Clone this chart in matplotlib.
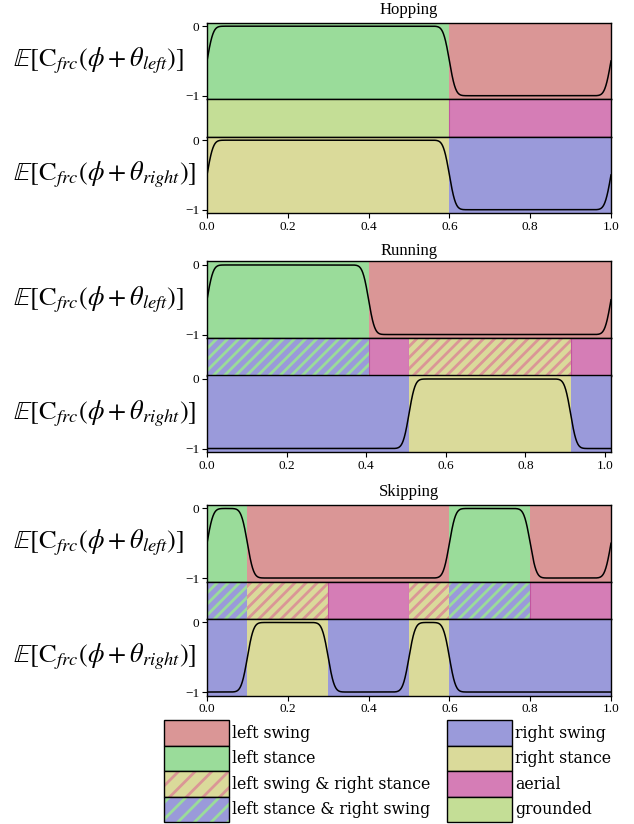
import math
import numpy as np
import matplotlib
matplotlib.use('Agg')
import matplotlib.pyplot as plt
from matplotlib.patches import Patch
from matplotlib.font_manager import FontProperties

plt.rcParams['hatch.linewidth'] = 2.0
plt.rcParams['mathtext.fontset'] = 'stix'
plt.rcParams['font.family'] = ['Liberation Serif', 'DejaVu Serif']
plt.rcParams['axes.linewidth'] = 1.0

# ---------------- data ----------------
gait_names = ['Hopping', 'Running', 'Skipping']
gait_periods = [1.0, 1.015, 1.0]
left_stance = [[(0.0, 0.6)],
               [(0.0, 0.406)],
               [(0.0, 0.1), (0.6, 0.8)]]
right_stance = [[(0.0, 0.6)],
                [(0.5075, 0.9135)],
                [(0.1, 0.3), (0.5, 0.6)]]
x_ticks = [0.0, 0.2, 0.4, 0.6, 0.8, 1.0]
y_ticks = [-1, 0]
transition_sigma = 0.012

legend_labels = ['left swing', 'left stance', 'left swing & right stance',
                 'left stance & right swing', 'right swing', 'right stance',
                 'aerial', 'grounded']

# ---------------- style ----------------
C_LSW = '#da9696'   # left swing
C_LST = '#9adc9a'   # left stance
C_RSW = '#9a9ada'   # right swing
C_RST = '#dada9a'   # right stance
C_AER = '#d57db6'   # aerial
C_GRD = '#c4de96'   # grounded
HATCH = '///'

W, H = 634, 824
fig = plt.figure(figsize=(W / 100, H / 100), dpi=100)


def fig_rect(x0, y0, w, h):
    return [x0 / W, 1 - (y0 + h) / H, w / W, h / H]


_erf = np.frompyfunc(math.erf, 1, 1)


def ncdf(z):
    return 0.5 * (1 + _erf(z / math.sqrt(2)).astype(float))


def expected_cfrc(x, intervals, period):
    p = np.zeros_like(x)
    for a, b in intervals:
        for k in (-1, 0, 1):
            p += ncdf((x - a - k * period) / transition_sigma) - \
                 ncdf((x - b - k * period) / transition_sigma)
    return p - 1.0


def in_stance(x, intervals):
    return any(a <= x < b for a, b in intervals)


def complement(intervals, period):
    pts = [0.0]
    out = []
    for a, b in sorted(intervals):
        if a > pts[-1]:
            out.append((pts[-1], a))
        pts.append(b)
    if pts[-1] < period:
        out.append((pts[-1], period))
    return out


group_tops = [22.7, 261.5, 505.0]
title_centers = [10.0, 251.0, 492.0]
AX_L, AX_W = 207, 404
H_TOP, H_MID, H_BOT = 76.5, 37.5, 76.5

for g, name in enumerate(gait_names):
    period = gait_periods[g]
    y0 = group_tops[g]
    ax_l = fig.add_axes(fig_rect(AX_L, y0, AX_W, H_TOP))
    ax_m = fig.add_axes(fig_rect(AX_L, y0 + H_TOP, AX_W, H_MID))
    ax_r = fig.add_axes(fig_rect(AX_L, y0 + H_TOP + H_MID, AX_W, H_BOT))

    x = np.linspace(0, period, 1500)

    # left foot
    for a, b in left_stance[g]:
        ax_l.axvspan(a, b, facecolor=C_LST, lw=0)
    for a, b in complement(left_stance[g], period):
        ax_l.axvspan(a, b, facecolor=C_LSW, lw=0)
    ax_l.plot(x, expected_cfrc(x, left_stance[g], period), color='black', lw=1.1)

    # right foot
    for a, b in right_stance[g]:
        ax_r.axvspan(a, b, facecolor=C_RST, lw=0)
    for a, b in complement(right_stance[g], period):
        ax_r.axvspan(a, b, facecolor=C_RSW, lw=0)
    ax_r.plot(x, expected_cfrc(x, right_stance[g], period), color='black', lw=1.1)

    # contact band
    bounds = sorted(set([0.0, period] +
                        [v for iv in left_stance[g] + right_stance[g] for v in iv]))
    for a, b in zip(bounds[:-1], bounds[1:]):
        m = 0.5 * (a + b)
        ls, rs = in_stance(m, left_stance[g]), in_stance(m, right_stance[g])
        if ls and rs:
            ax_m.axvspan(a, b, facecolor=C_GRD, lw=0)
        elif not ls and not rs:
            ax_m.axvspan(a, b, facecolor=C_AER, edgecolor='#c2559f', lw=0.8)
        elif ls:
            ax_m.axvspan(a, b, facecolor=C_RSW, edgecolor=C_LST, hatch=HATCH, lw=0)
        else:
            ax_m.axvspan(a, b, facecolor=C_RST, edgecolor=C_LSW, hatch=HATCH, lw=0)

    for ax in (ax_l, ax_m, ax_r):
        ax.set_xlim(0, period)
        ax.tick_params(labelsize=9.5, length=3.5, width=0.8, pad=2)
    for ax in (ax_l, ax_r):
        ax.set_ylim(-1.05, 0.05)
        ax.set_yticks(y_ticks)
    ax_m.set_ylim(0, 1)
    ax_m.set_yticks([])
    ax_l.tick_params(bottom=False, labelbottom=False)
    ax_m.tick_params(bottom=False, labelbottom=False)
    ax_r.set_xticks(x_ticks)

    fig.text((AX_L + AX_W / 2) / W, 1 - title_centers[g] / H, name,
             fontsize=12, ha='center', va='center')

    fig.text(13 / W, 1 - (y0 + H_TOP / 2) / H,
             r'$\mathbb{E}[\mathrm{C}_{frc}(\phi+\theta_{left})]$',
             fontsize=19, ha='left', va='center')
    fig.text(13 / W, 1 - (y0 + H_TOP + H_MID + H_BOT / 2) / H,
             r'$\mathbb{E}[\mathrm{C}_{frc}(\phi+\theta_{right})]$',
             fontsize=19, ha='left', va='center')

# ---------------- legend ----------------
def box(fc):
    return Patch(facecolor=fc, edgecolor='black', lw=1.0)


def hbox(fc, hc):
    return (Patch(facecolor=fc, edgecolor=hc, hatch='//', lw=0),
            Patch(facecolor='none', edgecolor='black', lw=1.0))


handles = [box(C_LSW), box(C_LST), hbox(C_RST, C_LSW), hbox(C_RSW, C_LST),
           box(C_RSW), box(C_RST), box(C_AER), box(C_GRD)]
fs = 11.3
fspx = fs * 100 / 72
row_h = 25.5
hh = (row_h / fspx - 0.245) / 0.65
fig.legend(handles, legend_labels, ncol=2, frameon=False,
           loc='upper left', bbox_to_anchor=(164 / W, 1 - 720 / H),
           borderaxespad=0, borderpad=0,
           prop=FontProperties(family='DejaVu Serif', size=fs),
           handlelength=64.5 / fspx, handleheight=hh,
           handletextpad=3.5 / fspx, columnspacing=17 / fspx,
           labelspacing=0)

fig.savefig('out.png', dpi=100)
